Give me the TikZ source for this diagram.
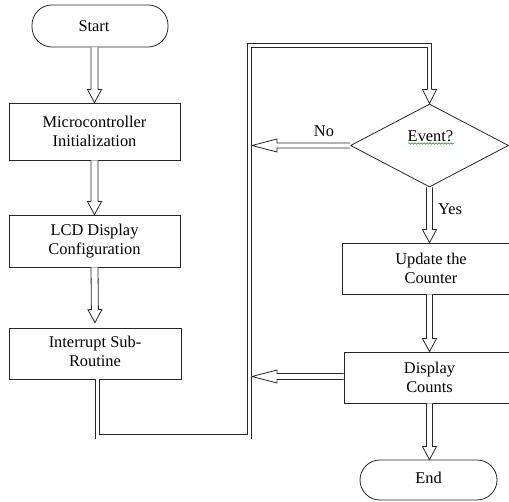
\documentclass[tikz,border=0pt]{standalone}
\usepackage{fontspec}
\setmainfont{Liberation Serif}
\usetikzlibrary{shapes.geometric,calc,decorations.pathmorphing}
\newcommand\barrow[5]{%
  \draw[arr] let \p1=#1, \p2=#2,
    \n1={veclen(\x2-\x1,\y2-\y1)}, \n2={atan2(\y2-\y1,\x2-\x1)} in
    [shift={(\p1)}, rotate=\n2]
    (0pt,#3) -- (\n1+0pt-#5,#3) -- (\n1+0pt-#5,#4) -- (\n1+0pt,0pt)
    -- (\n1+0pt-#5,-#4) -- (\n1+0pt-#5,-#3) -- (0pt,-#3);}
\tikzset{
  box/.style={draw=black!85, line width=0.8pt, align=center, inner sep=0pt},
  term/.style={draw=black!85, line width=0.8pt, rounded corners=20pt, inner sep=0pt},
  dia/.style={draw=black!85, line width=0.8pt, diamond, inner sep=0pt},
  arr/.style={draw=black!85, line width=0.8pt, fill=white, line join=miter},
  loopline/.style={draw=black!85, line width=0.75pt, double=white, double distance=3.5pt, line join=miter},
  squig/.style={draw=green!60!black, line width=0.5pt, decorate,
    decoration={snake, amplitude=0.8pt, segment length=3pt}},
}
\begin{document}
\begin{tikzpicture}[x=1pt, y=-1pt, font=\fontsize{16.4}{19}\selectfont]
\useasboundingbox (0,0) rectangle (509,502);
\node[term, minimum width=136pt, minimum height=42pt] (start) at (100,26) {\hspace*{-12pt}Start};
\node[box, minimum width=171pt, minimum height=57pt] (mi) at (94.5,131.5) {Microcontroller\\Initialization};
\node[box, minimum width=171pt, minimum height=52pt] (lcd) at (94.5,241) {LCD Display\\Configuration};
\node[box, minimum width=172pt, minimum height=51pt] (int) at (95,353.5) {\raisebox{4pt}{\begin{tabular}{@{}c@{}}Interrupt Sub-\\Routine\end{tabular}}};
\node[dia, minimum width=158pt, minimum height=83pt] (ev) at (429.5,145.5) {};
\node (evt) at (430.5,136) {Event?};
\draw[squig] (408,143.5) -- (454,143.5);
\node[box, minimum width=178pt, minimum height=51pt] (upd) at (431,268.5) {Update the\\Counter};
\node[box, minimum width=171pt, minimum height=51pt] (disp) at (429.5,377.5) {Display\\Counts};
\node[term, minimum width=137pt, minimum height=40pt] (end) at (428.5,480) {\raisebox{5pt}{End}};
\node (no) at (324,131) {No};
\node (yes) at (450,209) {Yes};
\coordinate (lb) at (249.5,437);
\coordinate (lt) at (249.5,45.5);
\coordinate (noend) at (252,145.5);
\coordinate (dispend) at (252,376.5);
% vertical arrows
\barrow{(start.south -| mi.north)}{(mi.north)}{3.5pt}{7pt}{13pt}
\barrow{(mi.south)}{(lcd.north)}{3.5pt}{7pt}{13pt}
\barrow{(lcd.south)}{([yshift=5pt]int.north)}{3.5pt}{7pt}{13pt}
\barrow{(ev.south)}{(upd.north -| ev.south)}{3pt}{7pt}{13pt}
\barrow{(upd.south -| ev.south)}{(disp.north)}{3pt}{7pt}{13pt}
\barrow{(disp.south)}{(end.north -| disp.south)}{3pt}{7pt}{13pt}
% horizontal arrows
\barrow{(ev.west)}{(noend)}{2.5pt}{6.5pt}{25pt}
\barrow{(disp.west |- dispend)}{(dispend)}{3pt}{6.5pt}{25pt}
% loop
\draw[loopline] ([xshift=2.5pt]int.south) |- (lb) -- (lt) -| ([yshift=14pt]ev.north);
\barrow{([yshift=14pt]ev.north)}{(ev.north)}{2.5pt}{7pt}{14pt}
\end{tikzpicture}
\end{document}
